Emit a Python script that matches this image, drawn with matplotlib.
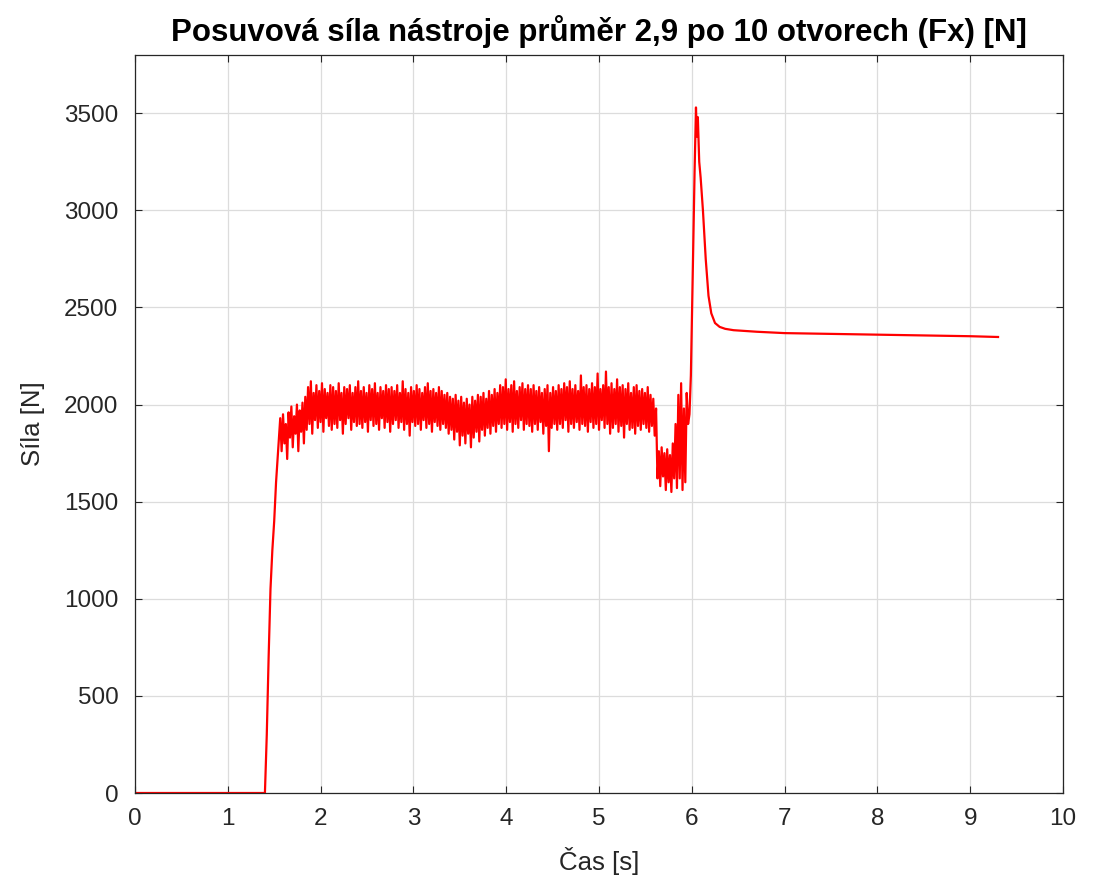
import numpy as np
import matplotlib
matplotlib.use("Agg")
import matplotlib.pyplot as plt

# ---- data ----
title = "Posuvová síla nástroje průměr 2,9 po 10 otvorech (Fx) [N]"
xlabel = "Čas [s]"
ylabel = "Síla [N]"
xticks = [0, 1, 2, 3, 4, 5, 6, 7, 8, 9, 10]
yticks = [0, 500, 1000, 1500, 2000, 2500, 3000, 3500]

# idle + rising edge
t_start = [0.0, 1.40, 1.42, 1.44, 1.46, 1.48, 1.50, 1.52, 1.54]
f_start = [0, 0, 300, 700, 1050, 1250, 1400, 1600, 1750]

# drilling (noisy), sampled every 0.015 s from 1.55 s
noise_t0 = 1.55
noise_dt = 0.015
f_noise = [
    1820, 1930, 1760, 1950, 1800, 1900, 1720, 1960, 1830, 1990, 1780, 1940, 1850, 2000, 1760, 1970, 1860, 2010, 1800, 2040,
    1870, 2090, 1900, 2120, 1850, 2060, 1920, 2100, 1880, 2070, 1910, 2110, 1860, 2080, 1930, 2060, 1890, 2100, 1870, 2090,
    1900, 2070, 1880, 2110, 1920, 2060, 1850, 2090, 1900, 2080, 1930, 2100, 1870, 2060, 1910, 2090, 1890, 2120, 1900, 2070,
    1880, 2090, 1910, 2060, 1860, 2100, 1920, 2080, 1890, 2110, 1900, 2060, 1870, 2090, 1930, 2070, 1880, 2100, 1910, 2080,
    1860, 2090, 1900, 2070, 1920, 2100, 1880, 2060, 1910, 2120, 1870, 2080, 1900, 2060, 1840, 2090, 1910, 2070, 1890, 2100,
    1900, 2080, 1870, 2060, 1920, 2090, 1880, 2110, 1900, 2070, 1860, 2080, 1910, 2060, 1890, 2090, 1870, 2070, 1900, 2050,
    1880, 2060, 1850, 2040, 1870, 2030, 1820, 2050, 1860, 2020, 1790, 2040, 1840, 2010, 1800, 2030, 1850, 2000, 1780, 2040,
    1830, 2020, 1860, 2050, 1810, 2040, 1870, 2060, 1840, 2030, 1880, 2070, 1850, 2050, 1890, 2080, 1860, 2060, 1900, 2100,
    1880, 2090, 1900, 2130, 1870, 2080, 1910, 2100, 1860, 2120, 1900, 2070, 1880, 2090, 1920, 2110, 1870, 2080, 1900, 2100,
    1890, 2080, 1860, 2100, 1900, 2070, 1870, 2090, 1910, 2060, 1850, 2080, 1890, 2100, 1760, 2060, 1880, 2090, 1900, 2070,
    1870, 2100, 1900, 2080, 1880, 2110, 1920, 2090, 1860, 2120, 1900, 2080, 1880, 2100, 1910, 2070, 1870, 2150, 1900, 2090,
    1890, 2100, 1860, 2080, 1910, 2110, 1880, 2090, 1900, 2160, 1870, 2080, 1920, 2100, 1880, 2170, 1900, 2090, 1850, 2110,
    1880, 2080, 1900, 2130, 1860, 2090, 1890, 2100, 1830, 2080, 1900, 2110, 1870, 2060, 1880, 2090, 1850, 2100, 1890, 2070,
    1870, 2080, 1900, 2060, 1880, 2090, 1860, 2050, 1890, 2030, 1840, 1980, 1620, 1760, 1580, 1780, 1630, 1750, 1560, 1770,
    1600, 1740, 1550, 1800, 1620, 1900, 1570, 2050, 1620, 2110, 1560, 1980, 1600, 2060, 1900,
]

# breakthrough peak and settling
t_end = [5.975, 5.99, 6.00, 6.015, 6.03, 6.045, 6.055, 6.065, 6.08, 6.095, 6.12, 6.15, 6.18,
         6.21, 6.25, 6.30, 6.36, 6.45, 6.7, 7.0, 7.5, 8.0, 8.5, 9.0, 9.3]
f_end = [1950, 2150, 2400, 2800, 3200, 3530, 3380, 3480, 3250, 3170, 3000, 2750, 2560,
         2470, 2420, 2400, 2390, 2383, 2375, 2368, 2364, 2360, 2356, 2352, 2348]

t_noise = noise_t0 + noise_dt * np.arange(len(f_noise))
t = np.concatenate([t_start, t_noise, t_end])
f = np.concatenate([f_start, f_noise, f_end])

# ---- figure ----
fig = plt.figure(figsize=(10.94, 8.84), dpi=100)
ax = fig.add_axes([135 / 1094, 1 - 793 / 884, (1063 - 135) / 1094, (793 - 55) / 884])

ax.plot(t, f, color="#ff0000", linewidth=1.6)

ax.set_xlim(0, 10)
ax.set_ylim(0, 3800)
ax.set_xticks(xticks)
ax.set_yticks(yticks)
ax.grid(True, color="#dcdcdc", linewidth=0.9)
ax.set_axisbelow(True)

tick_font = ["Liberation Sans", "DejaVu Sans"]
for lab in ax.get_xticklabels() + ax.get_yticklabels():
    lab.set_family(tick_font)
    lab.set_fontsize(17.5)
    lab.set_color("#262626")
ax.tick_params(direction="in", length=5, width=0.8, top=True, right=True, colors="#262626",
               labelcolor="#262626")
ax.tick_params(axis="x", pad=11)
ax.tick_params(axis="y", pad=12)
for s in ax.spines.values():
    s.set_color("#262626")
    s.set_linewidth(0.9)

ax.set_xlabel(xlabel, fontsize=18.5, family=tick_font, color="#262626", labelpad=12)
ax.set_ylabel(ylabel, fontsize=18.5, family=tick_font, color="#262626", labelpad=14)
ax.set_title(title, fontsize=22.5, fontweight="bold", family=["Liberation Sans", "DejaVu Sans"],
             color="black", pad=10)

fig.savefig("out.png", dpi=100, facecolor="white")
